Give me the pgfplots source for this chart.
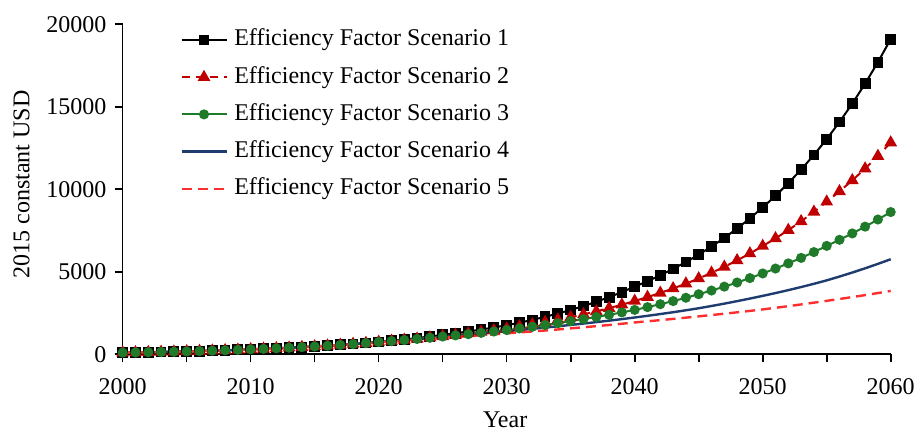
\documentclass[border=0pt]{standalone}
\usepackage{fontspec}
\setmainfont{Liberation Serif}
\usepackage{pgfplots}
\usepackage{pgfplotstable}
\pgfplotsset{compat=1.18}
\definecolor{cA}{HTML}{000000}
\definecolor{cB}{HTML}{C00000}
\definecolor{cC}{HTML}{1F7A2A}
\definecolor{cD}{HTML}{1F3C6E}
\definecolor{cE}{HTML}{FF2E2E}
\pgfplotstableread{
year s1 s2 s3 s4 s5
2000 100 100 100 100 100
2001 112 112 112 112 112
2002 125 125 125 125 125
2003 139 139 139 139 139
2004 155 155 155 155 155
2005 173 173 173 173 173
2006 193 193 193 193 193
2007 215 215 215 215 215
2008 240 240 240 240 240
2009 268 268 268 268 268
2010 300 300 300 300 300
2011 329 329 329 329 329
2012 360 360 360 360 360
2013 395 395 395 395 395
2014 433 433 433 433 433
2015 474 474 474 474 474
2016 520 520 519 518 516
2017 570 569 567 565 561
2018 624 622 620 617 610
2019 684 681 678 674 663
2020 750 745 742 736 720
2021 821 804 799 790 769
2022 899 867 861 848 821
2023 984 936 927 911 877
2024 1078 1010 998 978 936
2025 1180 1090 1075 1050 1000
2026 1278 1171 1144 1112 1049
2027 1384 1257 1218 1177 1100
2028 1499 1350 1297 1247 1154
2029 1624 1450 1380 1320 1210
2030 1760 1557 1470 1400 1270
2031 1915 1679 1565 1469 1325
2032 2084 1806 1666 1541 1382
2033 2268 1943 1773 1617 1442
2034 2469 2091 1888 1696 1505
2035 2687 2250 2010 1780 1570
2036 2924 2419 2131 1862 1636
2037 3182 2600 2259 1948 1705
2038 3463 2795 2394 2038 1776
2039 3768 3005 2538 2132 1851
2040 4100 3230 2690 2230 1930
2041 4430 3466 2858 2332 1999
2042 4787 3719 3036 2438 2070
2043 5173 3990 3225 2550 2144
2044 5590 4282 3426 2667 2221
2045 6040 4594 3640 2790 2300
2046 6527 4938 3863 2927 2378
2047 7053 5300 4100 3070 2459
2048 7622 5690 4351 3220 2543
2049 8236 6108 4618 3377 2630
2050 8900 6560 4900 3540 2720
2051 9607 7026 5196 3710 2817
2052 10370 7525 5510 3888 2917
2053 11193 8059 5842 4075 3021
2054 12082 8631 6195 4271 3129
2055 13041 9244 6570 4480 3240
2056 14077 9874 6937 4711 3352
2057 15194 10541 7325 4954 3468
2058 16400 11252 7735 5210 3587
2059 17703 12012 8168 5479 3711
2060 19100 12830 8620 5760 3840
}\data
\begin{document}
\fontsize{12}{14}\selectfont
\begin{tikzpicture}
\begin{axis}[
  scale only axis, width=384pt, height=165pt,
  xmin=2000, xmax=2060, ymin=0, ymax=20000,
  axis x line=bottom, axis y line=left,
  axis line style={-, line width=0.8pt},
  xtick={2000,2010,...,2060}, minor xtick={2005,2015,...,2055},
  ytick={0,5000,...,20000},
  scaled y ticks=false, scaled x ticks=false,
  tick align=outside, major tick length=4pt, minor tick length=4pt,
  every tick/.style={black, line width=0.8pt},
  every minor tick/.style={black, line width=0.8pt},
  /pgf/number format/1000 sep={},
  /pgf/number format/assume math mode=true,
  tick label style={font=\fontsize{12}{14}\selectfont},
  xticklabel style={yshift=-4pt},
  every axis x label/.style={at={(axis description cs:0.498,-0.197)}, anchor=center, font=\fontsize{12}{14}\selectfont},
  every axis y label/.style={at={(axis description cs:-0.1317,0.515)}, anchor=center, rotate=90, font=\fontsize{12}{14}\selectfont},
  xlabel={Year}, ylabel={2015 constant USD},
  clip=false,
  legend cell align=left,
  legend style={draw=none, fill=none, at={(axis description cs:0.0745,0.99)}, anchor=north west,
    inner xsep=0pt, inner ysep=0pt, row sep=6.6pt, column sep=3.3pt,
    nodes={inner sep=0pt, text height=9pt, text depth=3pt},
    font=\fontsize{12}{14}\selectfont},
  legend image code/.code={\draw[mark repeat=2,mark phase=2] plot coordinates {(0pt,0pt)(11.25pt,0pt)(22.5pt,0pt)};},
]
\addplot[cA, line width=1pt, mark=square*, mark size=2.2pt, mark options={solid}] table[x=year,y=s1]{\data};
\addlegendentry{Efficiency Factor Scenario 1}
\addplot[cB, line width=1pt, dash pattern=on 4pt off 3pt, mark=triangle*, mark size=2.7pt, mark options={solid}] table[x=year,y=s2]{\data};
\addlegendentry{Efficiency Factor Scenario 2}
\addplot[cC, line width=1pt, mark=*, mark size=2pt, mark options={solid}] table[x=year,y=s3]{\data};
\addlegendentry{Efficiency Factor Scenario 3}
\addplot[cD, line width=1.2pt, no marks] table[x=year,y=s4]{\data};
\addlegendentry{Efficiency Factor Scenario 4}
\addplot[cE, line width=1.2pt, dash pattern=on 5pt off 3pt, no marks] table[x=year,y=s5]{\data};
\addlegendentry{Efficiency Factor Scenario 5}
\end{axis}
\pgfresetboundingbox
\path[use as bounding box] ([shift={(-61.35pt,-38.35pt)}]current axis.south west) rectangle ([shift={(13.15pt,12.15pt)}]current axis.north east);
\end{tikzpicture}
\end{document}
